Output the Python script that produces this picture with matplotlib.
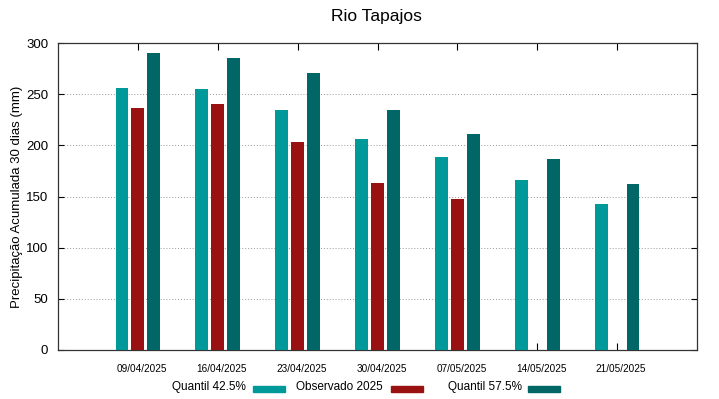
#!/usr/bin/env python3
"""
Rio Tapajos - 30-day accumulated precipitation: quantiles vs observed 2025.
Writes: out.png
"""

import numpy as np
import matplotlib
matplotlib.use('Agg')
import matplotlib.pyplot as plt
import matplotlib.transforms as mtransforms
from matplotlib.patches import Rectangle

plt.rcParams['font.family'] = ['Liberation Sans', 'DejaVu Sans']

# --- Data ---
dates = ['09/04/2025', '16/04/2025', '23/04/2025', '30/04/2025',
         '07/05/2025', '14/05/2025', '21/05/2025']
q425 = [256, 255, 235, 206, 189, 166, 143]
obs_2025 = [236, 240, 203, 163, 148, np.nan, np.nan]
q575 = [290, 285, 271, 235, 211, 187, 162]

# --- Style ---
C_Q425 = '#009999'
C_OBS = '#991111'
C_Q575 = '#006666'
BAR_W = 0.16
OFFSET = 0.2
W, H = 719, 399


def main():
    fig = plt.figure(figsize=(W / 100, H / 100), dpi=100)
    ax = fig.add_axes([58 / W, 1 - 350 / H, (697 - 58) / W, (350 - 43) / H])

    x = np.arange(len(dates))
    ax.bar(x - OFFSET, q425, BAR_W, color=C_Q425, zorder=3)
    ax.bar(x, obs_2025, BAR_W, color=C_OBS, zorder=3)
    ax.bar(x + OFFSET, q575, BAR_W, color=C_Q575, zorder=3)

    ax.set_xlim(-1, len(dates))
    ax.set_ylim(0, 300)
    ax.set_yticks(range(0, 301, 50))
    ax.set_xticks(x)
    ax.set_xticklabels(dates, fontsize=7.2)
    ax.tick_params(axis='y', labelsize=9.5, direction='in', right=True, length=4, pad=7)
    ax.tick_params(axis='x', direction='in', top=True, length=5, pad=10)

    # gnuplot puts the date labels a few pixels right of the tick
    shift = mtransforms.ScaledTranslation(4 / 100, 0, fig.dpi_scale_trans)
    for lab in ax.get_xticklabels():
        lab.set_transform(lab.get_transform() + shift)

    ax.yaxis.grid(True, linestyle=(0, (1, 2)), color='#999999', linewidth=0.7, zorder=0)
    for s in ax.spines.values():
        s.set_color('#333333')
        s.set_linewidth(0.9)

    ax.set_ylabel('Precipitação Acumulada 30 dias (mm)', fontsize=9.5, labelpad=2)
    fig.text(376.7 / W, 1 - 16.5 / H, 'Rio Tapajos', fontsize=12.5,
             ha='center', va='center')

    # legend in gnuplot style: label on the left, sample box on the right
    labels = ['Quantil 42.5%', 'Observado 2025', 'Quantil 57.5%']
    colors = [C_Q425, C_OBS, C_Q575]
    text_right = [246, 383, 522]
    box_left = [253, 391, 528]
    for lab, col, tr, bl in zip(labels, colors, text_right, box_left):
        fig.text(tr / W, 1 - 387 / H, lab, fontsize=8.5, ha='right', va='center')
        fig.patches.append(Rectangle((bl / W, 1 - 391.5 / H), 32 / W, 6 / H,
                                     transform=fig.transFigure, color=col))

    fig.savefig('out.png', dpi=100)
    plt.close(fig)


if __name__ == '__main__':
    main()
